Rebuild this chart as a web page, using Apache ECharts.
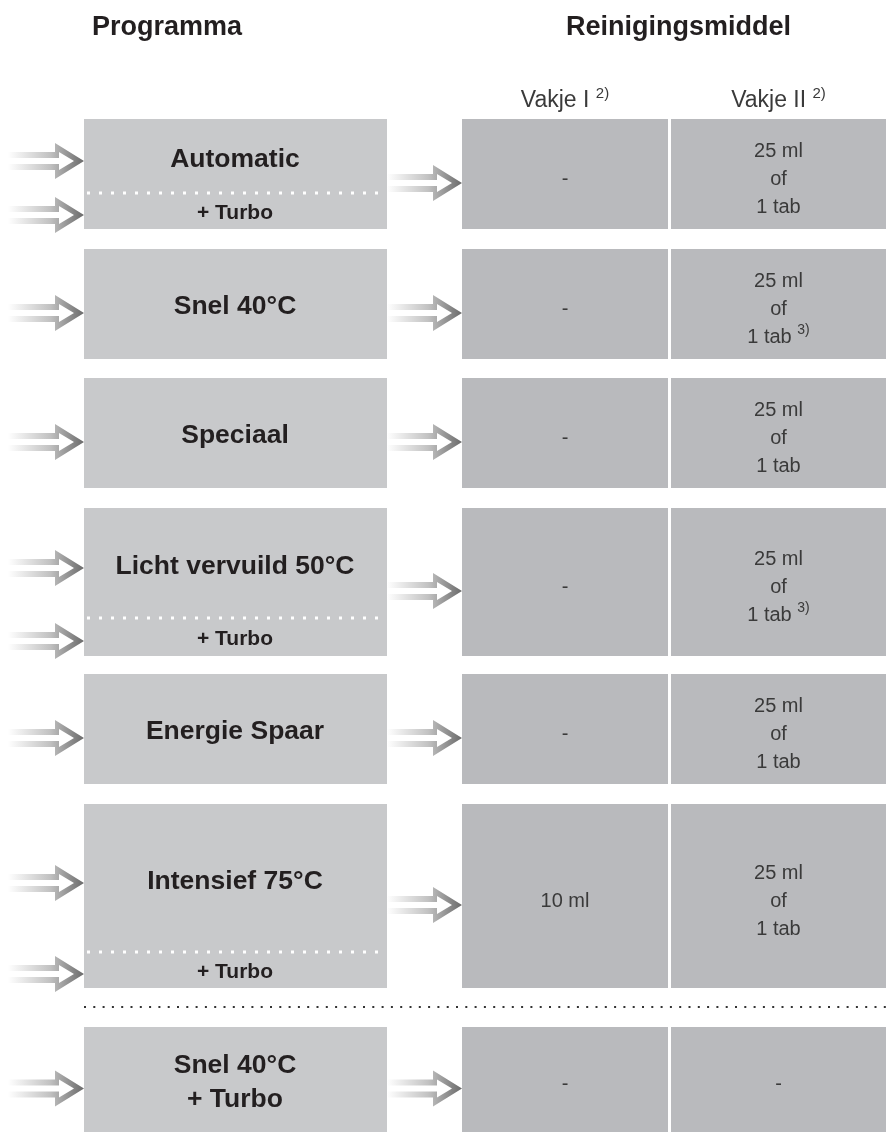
<!DOCTYPE html>
<html>
<head>
<meta charset="utf-8">
<script src="https://cdn.jsdelivr.net/npm/echarts@6/dist/echarts.min.js"></script>
<style>
  html, body { margin: 0; padding: 0; background: #fff; }
  #chart { width: 886px; height: 1132px; }
</style>
</head>
<body>
<div id="chart"></div>
<script>
// inhoud van de tabel
const headers = ['Programma', 'Reinigingsmiddel'];
const columns = ['Vakje I', 'Vakje II'];
const columnNote = ['2)', '2)'];
const programs = ['Automatic', 'Snel 40°C', 'Speciaal', 'Licht vervuild 50°C', 'Energie Spaar', 'Intensief 75°C', 'Snel 40°C\n+ Turbo'];
const turbo = [true, false, false, true, false, true, false];
const vakje1 = ['-', '-', '-', '-', '-', '10 ml', '-'];
const vakje2 = ['25 ml\nof\n1 tab', '25 ml\nof\n1 tab', '25 ml\nof\n1 tab', '25 ml\nof\n1 tab', '25 ml\nof\n1 tab', '25 ml\nof\n1 tab', '-'];
const vakje2Note = ['', '3)', '', '3)', '', '', ''];

// layout, in as-eenheden (1 eenheid = 1 px)
const rowTop = [119, 249, 378, 508, 674, 804, 1027];
const rowBottom = [229, 359, 488, 656, 784, 988, 1132];
const turboLine = [193, null, null, 618, null, 952, null];
const colLeft = [462, 671];
const colRight = [668, 886];

const FONT = 'Liberation Sans, Arial, sans-serif';
const DARK = '#231f20';
const LIGHT_TXT = '#3a3a3a';

const chart = echarts.init(document.getElementById('chart'));

function arrow(api, x0, xt, y) {
  const p0 = api.coord([x0, y]);
  const p1 = api.coord([xt, y]);
  const a = p0[0], t = p1[0], c = p0[1];
  const h = t - 29;
  const grad = new echarts.graphic.LinearGradient(0, 0, 1, 0, [
    { offset: 0, color: '#ffffff' },
    { offset: 0.55, color: '#c2c2c2' },
    { offset: 1, color: '#6a6a6a' }
  ]);
  return {
    type: 'group',
    children: [
      { type: 'polygon', shape: { points: [[a, c - 9], [h, c - 9], [h, c - 18], [t, c], [h, c + 18], [h, c + 9], [a, c + 9]] }, style: { fill: grad } },
      { type: 'polygon', shape: { points: [[a, c - 3], [h + 4, c - 3], [h + 4, c - 9], [t - 10, c], [h + 4, c + 9], [h + 4, c + 3], [a, c + 3]] }, style: { fill: '#fff' } }
    ]
  };
}

function rect(api, x1, y1, x2, y2, fill) {
  const p1 = api.coord([x1, y1]);
  const p2 = api.coord([x2, y2]);
  return { type: 'rect', shape: { x: p1[0], y: p1[1], width: p2[0] - p1[0], height: p2[1] - p1[1] }, style: { fill: fill } };
}

function label(api, x, y, text, style) {
  const p = api.coord([x, y]);
  return {
    type: 'text', x: p[0], y: p[1],
    style: Object.assign({ text: text, align: 'center', verticalAlign: 'middle', fontFamily: FONT }, style)
  };
}

function renderRow(params, api) {
  const i = params.dataIndex;
  const top = rowTop[i], bottom = rowBottom[i], split = turboLine[i];
  const mid = (top + bottom) / 2;
  const children = [];

  // programma vak
  children.push(rect(api, 84, top, 387, bottom, '#c8c9cb'));
  if (split != null) {
    const p1 = api.coord([87, split]);
    const p2 = api.coord([384, split]);
    children.push({ type: 'line', shape: { x1: p1[0], y1: p1[1], x2: p2[0], y2: p2[1] }, style: { stroke: '#fff', lineWidth: 3, lineDash: [3, 9] } });
    const mainY = (top + split) / 2 + 4;
    const turboY = (split + bottom) / 2 + 2;
    children.push(label(api, 235, mainY, programs[i], { fontSize: 26.5, fontWeight: 'bold', fill: DARK }));
    children.push(label(api, 235, turboY, '+ Turbo', { fontSize: 21, fontWeight: 'bold', fill: DARK }));
    children.push(arrow(api, 8, 84, mainY + 1));
    children.push(arrow(api, 8, 84, turboY + 2));
  } else {
    children.push(label(api, 235, mid + 3, programs[i], { fontSize: 26.5, fontWeight: 'bold', fill: DARK, lineHeight: 34 }));
    children.push(arrow(api, 8, 84, mid + 9));
  }
  children.push(arrow(api, 387, 462, mid + 9));

  // reinigingsmiddel vakken
  const vals = [vakje1[i], vakje2[i] + (vakje2Note[i] ? ' {sup|' + vakje2Note[i] + '}' : '')];
  for (let c = 0; c < 2; c++) {
    children.push(rect(api, colLeft[c], top, colRight[c], bottom, '#b9babd'));
    children.push(label(api, (colLeft[c] + colRight[c]) / 2, mid + 5, vals[c], {
      fontSize: 20, lineHeight: 28, fill: LIGHT_TXT,
      rich: { sup: { fontSize: 14, lineHeight: 14, verticalAlign: 'top', fill: LIGHT_TXT, fontFamily: FONT } }
    }));
  }

  // scheidingslijn boven laatste rij
  if (i === programs.length - 1) {
    const p1 = api.coord([84, top - 20]);
    const p2 = api.coord([886, top - 20]);
    children.push({ type: 'line', shape: { x1: p1[0], y1: p1[1], x2: p2[0], y2: p2[1] }, style: { stroke: '#333', lineWidth: 2, lineDash: [2, 7.3] } });
  }
  return { type: 'group', children: children };
}

function renderColumn(params, api) {
  const c = params.dataIndex;
  return label(api, (colLeft[c] + colRight[c]) / 2, 101, columns[c] + ' {sup|' + columnNote[c] + '}', {
    fontSize: 23, lineHeight: 30, fill: LIGHT_TXT,
    rich: { sup: { fontSize: 15, lineHeight: 15, verticalAlign: 'top', fill: LIGHT_TXT, fontFamily: FONT } }
  });
}

const option = {
  backgroundColor: '#fff',
  animation: false,
  title: [
    { text: headers[0], left: 92, top: 14, padding: 0, textStyle: { fontSize: 27, fontWeight: 'bold', color: DARK, fontFamily: FONT } },
    { text: headers[1], left: 566, top: 14, padding: 0, textStyle: { fontSize: 27, fontWeight: 'bold', color: DARK, fontFamily: FONT } }
  ],
  grid: { left: 0, right: 0, top: 0, bottom: 0 },
  xAxis: { type: 'value', min: 0, max: 886, show: false },
  yAxis: { type: 'value', min: 0, max: 1132, inverse: true, show: false },
  series: [
    { type: 'custom', renderItem: renderRow, data: programs.map((p, i) => [i]), clip: false },
    { type: 'custom', renderItem: renderColumn, data: columns.map((p, i) => [i]), clip: false }
  ]
};
chart.setOption(option);
</script>
</body>
</html>
